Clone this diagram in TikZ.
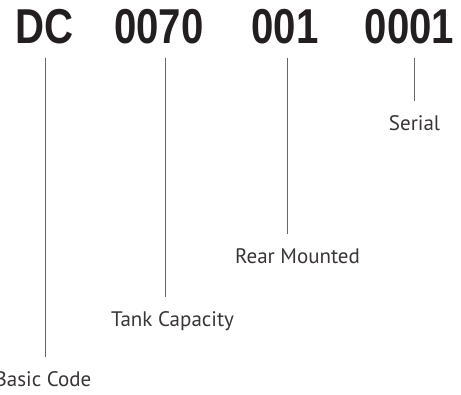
\documentclass[tikz,border=0pt]{standalone}
\usepackage{fontspec}
\setmainfont{PT Sans}
\newfontfamily\codefont{Liberation Sans}
\definecolor{ink}{HTML}{231F20}
\tikzstyle{code}=[inner sep=0pt, anchor=base, text=ink, font=\codefont\bfseries\fontsize{49}{49}\selectfont]
\tikzstyle{part}=[inner sep=0pt, anchor=base, text=ink!90, font=\fontsize{21}{21}\selectfont]
\tikzstyle{link}=[draw=black!60, line width=0.8pt, shorten <=14pt, shorten >=14pt]
\begin{document}
\begin{tikzpicture}[x=1pt, y=-1pt]
\useasboundingbox (0,0) rectangle (461,394);

\node(c0)[code] at (45,43){\scalebox{0.82}[1]{DC}};
\node(c1)[code] at (159,43){\scalebox{0.82}[1]{0070}};
\node(c2)[code] at (285,43){\scalebox{0.82}[1]{001}};
\node(c3)[code] at (409.5,43){\scalebox{0.82}[1]{0001}};

\node(l0)[part] at (43,386){Basic Code};
\node(l1)[part] at (172.5,326){Tank Capacity};
\node(l2)[part] at (297.5,263){Rear Mounted};
\node(l3)[part] at (414.5,130){Serial};

\draw[link]([xshift=2pt]l0.north |- c0.south)--([xshift=2pt]l0.north);
\draw[link]([xshift=-7.5pt]l1.north |- c1.south)--([xshift=-7.5pt]l1.north);
\draw[link]([xshift=-10.5pt]l2.north |- c2.south)--([xshift=-10.5pt]l2.north);
\draw[link]([xshift=-0.5pt]l3.north |- c3.south)--([xshift=-0.5pt]l3.north);

\end{tikzpicture}
\end{document}
